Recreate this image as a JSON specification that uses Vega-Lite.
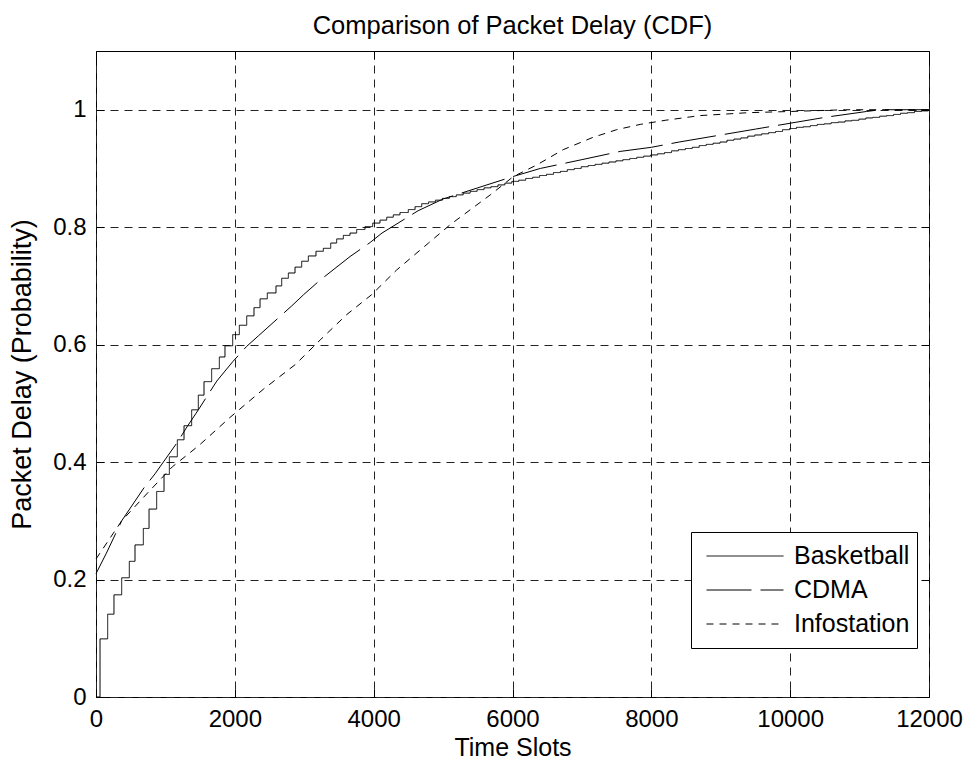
{
  "$schema": "https://vega.github.io/schema/vega-lite/v6.json",
  "width": 833,
  "height": 646,
  "autosize": "none",
  "padding": {"left": 96, "top": 51, "right": 40, "bottom": 63},
  "background": "white",
  "title": {"text": "Comparison of Packet Delay (CDF)", "font": "Liberation Sans", "fontSize": 25.5, "fontWeight": "normal", "color": "black", "offset": 11},
  "config": {
    "view": {"stroke": "black", "strokeWidth": 1},
    "font": "Liberation Sans",
    "axis": {"domain": false, "labelFlush": false, "tickColor": "black", "tickSize": -8, "tickWidth": 1, "labelColor": "black", "labelFont": "Liberation Sans", "labelFontSize": 24, "titleFont": "Liberation Sans", "titleFontSize": 25, "titleFontWeight": "normal", "titleColor": "black", "gridColor": "#222", "gridDash": [8, 6], "gridOpacity": 1, "gridWidth": 1}
  },
  "data": {"values": [
    {"s":"Basketball","x":0,"y":0},{"s":"Basketball","x":58,"y":0.099},{"s":"Basketball","x":168,"y":0.141},{"s":"Basketball","x":259,"y":0.174},{"s":"Basketball","x":370,"y":0.203},{"s":"Basketball","x":480,"y":0.231},{"s":"Basketball","x":562,"y":0.259},{"s":"Basketball","x":682,"y":0.287},{"s":"Basketball","x":764,"y":0.320},{"s":"Basketball","x":874,"y":0.350},{"s":"Basketball","x":980,"y":0.379},{"s":"Basketball","x":1057,"y":0.409},{"s":"Basketball","x":1172,"y":0.438},{"s":"Basketball","x":1268,"y":0.462},{"s":"Basketball","x":1378,"y":0.489},{"s":"Basketball","x":1474,"y":0.514},{"s":"Basketball","x":1556,"y":0.537},{"s":"Basketball","x":1666,"y":0.559},{"s":"Basketball","x":1777,"y":0.579},{"s":"Basketball","x":1858,"y":0.598},{"s":"Basketball","x":1969,"y":0.617},{"s":"Basketball","x":2065,"y":0.633},{"s":"Basketball","x":2171,"y":0.649},{"s":"Basketball","x":2276,"y":0.663},{"s":"Basketball","x":2363,"y":0.678},{"s":"Basketball","x":2468,"y":0.688},{"s":"Basketball","x":2593,"y":0.700},{"s":"Basketball","x":2675,"y":0.713},{"s":"Basketball","x":2771,"y":0.722},{"s":"Basketball","x":2867,"y":0.732},{"s":"Basketball","x":2963,"y":0.742},{"s":"Basketball","x":3059,"y":0.751},{"s":"Basketball","x":3169,"y":0.759},{"s":"Basketball","x":3275,"y":0.764},{"s":"Basketball","x":3381,"y":0.773},{"s":"Basketball","x":3467,"y":0.780},{"s":"Basketball","x":3563,"y":0.786},{"s":"Basketball","x":3659,"y":0.790},{"s":"Basketball","x":3755,"y":0.796},{"s":"Basketball","x":3875,"y":0.801},{"s":"Basketball","x":3986,"y":0.807},{"s":"Basketball","x":4091,"y":0.812},{"s":"Basketball","x":4188,"y":0.817},{"s":"Basketball","x":4283,"y":0.821},{"s":"Basketball","x":4379,"y":0.825},{"s":"Basketball","x":4499,"y":0.830},{"s":"Basketball","x":4596,"y":0.835},{"s":"Basketball","x":4692,"y":0.840},{"s":"Basketball","x":4790,"y":0.843},{"s":"Basketball","x":4890,"y":0.846},{"s":"Basketball","x":4990,"y":0.849},{"s":"Basketball","x":5090,"y":0.852},{"s":"Basketball","x":5190,"y":0.855},{"s":"Basketball","x":5290,"y":0.858},{"s":"Basketball","x":5390,"y":0.861},{"s":"Basketball","x":5490,"y":0.864},{"s":"Basketball","x":5590,"y":0.867},{"s":"Basketball","x":5690,"y":0.869},{"s":"Basketball","x":5790,"y":0.872},{"s":"Basketball","x":5890,"y":0.875},{"s":"Basketball","x":5990,"y":0.878},{"s":"Basketball","x":6090,"y":0.880},{"s":"Basketball","x":6190,"y":0.883},{"s":"Basketball","x":6290,"y":0.885},{"s":"Basketball","x":6390,"y":0.888},{"s":"Basketball","x":6490,"y":0.890},{"s":"Basketball","x":6590,"y":0.893},{"s":"Basketball","x":6690,"y":0.895},{"s":"Basketball","x":6790,"y":0.898},{"s":"Basketball","x":6890,"y":0.900},{"s":"Basketball","x":6990,"y":0.903},{"s":"Basketball","x":7090,"y":0.905},{"s":"Basketball","x":7190,"y":0.907},{"s":"Basketball","x":7290,"y":0.909},{"s":"Basketball","x":7390,"y":0.911},{"s":"Basketball","x":7490,"y":0.913},{"s":"Basketball","x":7590,"y":0.915},{"s":"Basketball","x":7690,"y":0.917},{"s":"Basketball","x":7790,"y":0.919},{"s":"Basketball","x":7890,"y":0.921},{"s":"Basketball","x":7990,"y":0.923},{"s":"Basketball","x":8090,"y":0.925},{"s":"Basketball","x":8190,"y":0.927},{"s":"Basketball","x":8290,"y":0.930},{"s":"Basketball","x":8390,"y":0.932},{"s":"Basketball","x":8490,"y":0.934},{"s":"Basketball","x":8590,"y":0.936},{"s":"Basketball","x":8690,"y":0.939},{"s":"Basketball","x":8790,"y":0.941},{"s":"Basketball","x":8890,"y":0.943},{"s":"Basketball","x":8990,"y":0.945},{"s":"Basketball","x":9090,"y":0.948},{"s":"Basketball","x":9190,"y":0.950},{"s":"Basketball","x":9290,"y":0.952},{"s":"Basketball","x":9390,"y":0.955},{"s":"Basketball","x":9490,"y":0.957},{"s":"Basketball","x":9590,"y":0.959},{"s":"Basketball","x":9690,"y":0.961},{"s":"Basketball","x":9790,"y":0.963},{"s":"Basketball","x":9890,"y":0.966},{"s":"Basketball","x":9990,"y":0.968},{"s":"Basketball","x":10090,"y":0.970},{"s":"Basketball","x":10190,"y":0.971},{"s":"Basketball","x":10290,"y":0.973},{"s":"Basketball","x":10390,"y":0.975},{"s":"Basketball","x":10490,"y":0.976},{"s":"Basketball","x":10590,"y":0.978},{"s":"Basketball","x":10690,"y":0.979},{"s":"Basketball","x":10790,"y":0.981},{"s":"Basketball","x":10890,"y":0.982},{"s":"Basketball","x":10990,"y":0.984},{"s":"Basketball","x":11090,"y":0.986},{"s":"Basketball","x":11190,"y":0.987},{"s":"Basketball","x":11290,"y":0.989},{"s":"Basketball","x":11390,"y":0.990},{"s":"Basketball","x":11490,"y":0.992},{"s":"Basketball","x":11590,"y":0.994},{"s":"Basketball","x":11690,"y":0.995},{"s":"Basketball","x":11790,"y":0.997},{"s":"Basketball","x":11890,"y":0.998},{"s":"Basketball","x":11990,"y":1.0},{"s":"Basketball","x":12000,"y":1.0},
    {"s":"CDMA","x":0,"y":0.210},{"s":"CDMA","x":150,"y":0.245},{"s":"CDMA","x":370,"y":0.300},{"s":"CDMA","x":690,"y":0.356},{"s":"CDMA","x":850,"y":0.380},{"s":"CDMA","x":1180,"y":0.435},{"s":"CDMA","x":1300,"y":0.458},{"s":"CDMA","x":1480,"y":0.490},{"s":"CDMA","x":1740,"y":0.538},{"s":"CDMA","x":1970,"y":0.571},{"s":"CDMA","x":2170,"y":0.597},{"s":"CDMA","x":2340,"y":0.615},{"s":"CDMA","x":2820,"y":0.666},{"s":"CDMA","x":2990,"y":0.685},{"s":"CDMA","x":3230,"y":0.710},{"s":"CDMA","x":3660,"y":0.750},{"s":"CDMA","x":3950,"y":0.774},{"s":"CDMA","x":4120,"y":0.790},{"s":"CDMA","x":4640,"y":0.828},{"s":"CDMA","x":5000,"y":0.848},{"s":"CDMA","x":5500,"y":0.867},{"s":"CDMA","x":6000,"y":0.886},{"s":"CDMA","x":6400,"y":0.900},{"s":"CDMA","x":7000,"y":0.915},{"s":"CDMA","x":7550,"y":0.929},{"s":"CDMA","x":8000,"y":0.936},{"s":"CDMA","x":8400,"y":0.945},{"s":"CDMA","x":9000,"y":0.957},{"s":"CDMA","x":9500,"y":0.967},{"s":"CDMA","x":10000,"y":0.977},{"s":"CDMA","x":10500,"y":0.987},{"s":"CDMA","x":11100,"y":0.997},{"s":"CDMA","x":11300,"y":1.0},{"s":"CDMA","x":12000,"y":1.0},
    {"s":"Infostation","x":0,"y":0.235},{"s":"Infostation","x":370,"y":0.300},{"s":"Infostation","x":763,"y":0.350},{"s":"Infostation","x":1100,"y":0.392},{"s":"Infostation","x":1480,"y":0.428},{"s":"Infostation","x":1930,"y":0.476},{"s":"Infostation","x":2410,"y":0.524},{"s":"Infostation","x":2870,"y":0.566},{"s":"Infostation","x":3230,"y":0.608},{"s":"Infostation","x":3610,"y":0.651},{"s":"Infostation","x":3970,"y":0.685},{"s":"Infostation","x":4330,"y":0.727},{"s":"Infostation","x":4790,"y":0.773},{"s":"Infostation","x":5100,"y":0.804},{"s":"Infostation","x":5680,"y":0.855},{"s":"Infostation","x":6010,"y":0.886},{"s":"Infostation","x":6350,"y":0.906},{"s":"Infostation","x":6730,"y":0.932},{"s":"Infostation","x":7160,"y":0.953},{"s":"Infostation","x":7500,"y":0.966},{"s":"Infostation","x":7840,"y":0.975},{"s":"Infostation","x":8200,"y":0.982},{"s":"Infostation","x":8700,"y":0.990},{"s":"Infostation","x":9400,"y":0.995},{"s":"Infostation","x":10000,"y":0.997},{"s":"Infostation","x":10800,"y":1.0},{"s":"Infostation","x":12000,"y":1.0}
  ]},
  "resolve": {"axis": {"x": "independent", "y": "independent"}},
  "layer": [
    {
      "transform": [{"filter": "datum.s === 'Basketball'"}],
      "mark": {"type": "line", "interpolate": "step-after", "color": "black", "strokeWidth": 1},
      "encoding": {
        "x": {"field": "x", "type": "quantitative", "scale": {"domain": [0, 12000], "nice": false}, "axis": {"values": [0,2000,4000,6000,8000,10000,12000], "format": "d", "title": "Time Slots", "labelPadding": 18, "titlePadding": 4, "grid": true}},
        "y": {"field": "y", "type": "quantitative", "scale": {"domain": [0, 1.1], "nice": false}, "axis": {"values": [0,0.2,0.4,0.6,0.8,1], "format": "~g", "title": "Packet Delay (Probability)", "titleFontSize": 27, "labelPadding": 18, "titlePadding": 16, "grid": true}},
        "strokeDash": {"field": "s", "type": "nominal", "scale": {"domain": ["Basketball","CDMA","Infostation"], "range": [[1,0],[45,9],[7,6]]},
          "legend": {"title": null, "orient": "none", "legendX": 595, "legendY": 481, "fillColor": "white", "strokeColor": "black", "padding": 7, "symbolType": "stroke", "symbolSize": 5929, "symbolStrokeColor": "black", "symbolStrokeWidth": 1, "clipHeight": 34, "rowPadding": 0, "labelOffset": 10, "labelFont": "Liberation Sans", "labelFontSize": 25, "labelColor": "black", "symbolOffset": 8}}
      }
    },
    {
      "transform": [{"filter": "datum.s !== 'Basketball'"}],
      "mark": {"type": "line", "color": "black", "strokeWidth": 1},
      "encoding": {
        "x": {"field": "x", "type": "quantitative", "axis": {"orient": "top", "values": [0,2000,4000,6000,8000,10000,12000], "labels": false, "title": null, "grid": false}},
        "y": {"field": "y", "type": "quantitative", "axis": {"orient": "right", "values": [0,0.2,0.4,0.6,0.8,1], "labels": false, "title": null, "grid": false}},
        "strokeDash": {"field": "s", "type": "nominal"}
      }
    }
  ]
}
